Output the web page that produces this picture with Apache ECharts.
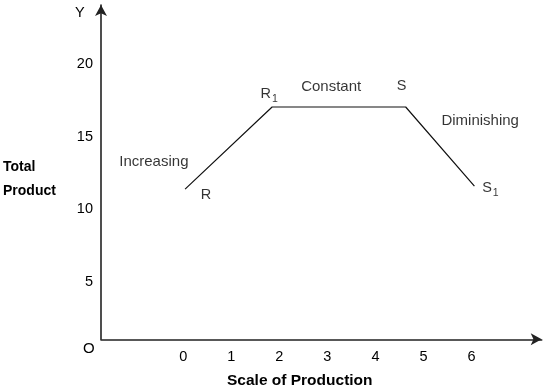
<!DOCTYPE html>
<html>
<head>
<meta charset="utf-8">
<script src="https://cdn.jsdelivr.net/npm/echarts@6/dist/echarts.min.js"></script>
<style>html,body{margin:0;padding:0;background:#fff}#c{width:545px;height:392px}</style>
</head>
<body>
<div id="c"></div>
<script>
// Data
const xTicks = [0, 1, 2, 3, 4, 5, 6];
const yTicks = [5, 10, 15, 20];
const pointNames = ['R', 'R1', 'S', 'S1'];
const pointX = [0.04, 1.85, 4.63, 6.06];
const pointY = [11.4, 17.05, 17.05, 11.6];
const stageNames = ['Increasing', 'Constant', 'Diminishing'];
const stageX = [-0.61, 3.08, 6.18];
const stageY = [13.26, 18.42, 16.08];

const font = 'Liberation Sans, Arial, sans-serif';
const ink = '#000';
const chart = echarts.init(document.getElementById('c'));

const labelOffsets = { R: [21, 6], R1: [-3, -13], S: [-4, -21], S1: [16, 2] };
const labelText = { R: 'R', R1: 'R{sub|1}', S: 'S', S1: 'S{sub|1}' };

chart.setOption({
  animation: false,
  backgroundColor: '#fff',
  grid: { left: 101, right: 3.3, top: 5, bottom: 52.7 },
  xAxis: {
    type: 'value', min: -1.71, max: 7.46,
    axisLine: { show: true, onZero: false, symbol: ['none', 'arrow'], symbolSize: [9, 11], lineStyle: { color: '#222', width: 1.6 } },
    axisTick: { show: false },
    splitLine: { show: false },
    axisLabel: { customValues: xTicks, fontSize: 14.5, color: ink, fontFamily: font, margin: 10 }
  },
  yAxis: {
    type: 'value', min: 1.06, max: 24.07,
    axisLine: { show: true, onZero: false, symbol: ['none', 'arrow'], symbolSize: [9, 11], lineStyle: { color: '#222', width: 1.6 } },
    axisTick: { show: false },
    splitLine: { show: false },
    axisLabel: { customValues: yTicks, fontSize: 14.5, color: ink, fontFamily: font, margin: 8 }
  },
  series: [
    {
      type: 'line',
      data: pointX.map((x, i) => [x, pointY[i]]),
      showSymbol: false,
      symbol: 'none',
      lineStyle: { color: '#111', width: 1.2 },
      silent: true
    },
    {
      type: 'scatter',
      symbolSize: 1,
      itemStyle: { color: 'rgba(0,0,0,0)' },
      data: pointX.map((x, i) => ({
        value: [x, pointY[i]],
        label: {
          show: true,
          position: 'inside',
          offset: labelOffsets[pointNames[i]],
          formatter: labelText[pointNames[i]],
          fontSize: 14.5, color: ink, fontFamily: font,
          rich: { sub: { fontSize: 10.5, verticalAlign: 'bottom', padding: [10, 0, 0, 1], fontFamily: font, color: ink } }
        }
      }))
    },
    {
      type: 'scatter',
      symbolSize: 1,
      itemStyle: { color: 'rgba(0,0,0,0)' },
      data: stageX.map((x, i) => ({
        value: [x, stageY[i]],
        label: { show: true, position: 'inside', formatter: stageNames[i], fontSize: 15, color: ink, fontFamily: font }
      }))
    }
  ],
  graphic: [
    { type: 'text', left: 3, top: 155, style: { text: 'Total\nProduct', font: 'bold 14px ' + font, fill: ink, lineHeight: 24 } },
    { type: 'text', left: 83, top: 341, style: { text: 'O', font: '15px ' + font, fill: ink } },
    { type: 'text', left: 75, top: 5, style: { text: 'Y', font: '14.5px ' + font, fill: ink } },
    { type: 'text', left: 227, top: 373, style: { text: 'Scale of Production', font: 'bold 15.5px ' + font, fill: ink } }
  ]
});
</script>
</body>
</html>
